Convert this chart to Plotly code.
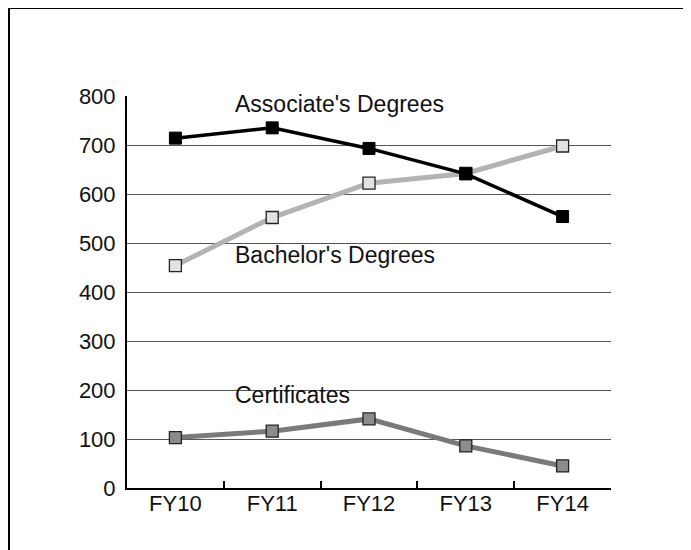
import plotly.graph_objects as go

years = ["FY10", "FY11", "FY12", "FY13", "FY14"]
associate = [714, 735, 693, 641, 554]
bachelor = [454, 552, 622, 642, 698]
certificates = [103, 116, 141, 86, 45]
y_ticks = [0, 100, 200, 300, 400, 500, 600, 700, 800]

FONT = "Liberation Sans, Arial, Helvetica, sans-serif"

fig = go.Figure()
fig.add_trace(go.Scatter(
    x=years, y=bachelor, mode="lines+markers",
    line=dict(color="#b3b3b3", width=5),
    marker=dict(symbol="square", size=12, color="#e2e2e2", line=dict(color="#222", width=1.3)),
))
fig.add_trace(go.Scatter(
    x=years, y=certificates, mode="lines+markers",
    line=dict(color="#7a7a7a", width=5),
    marker=dict(symbol="square", size=12, color="#8c8c8c", line=dict(color="#222", width=1.3)),
))
fig.add_trace(go.Scatter(
    x=years, y=associate, mode="lines+markers",
    line=dict(color="#000", width=3.5),
    marker=dict(symbol="square", size=12, color="#000", line=dict(color="#000", width=1)),
))

# page has an 8px body margin; positions below are in target-screen pixels
OFF = 8
W, H = 691, 550
L, R, T, B = 127 - OFF, W - (611 - OFF), 96 - OFF, H - (488 - OFF)
pw, ph = W - L - R, H - T - B

def px(x):
    return (x - OFF - L) / pw

def py(y):
    return (H - B - (y - OFF)) / ph

annots = [("Associate's Degrees", 104), ("Bachelor's Degrees", 255), ("Certificates", 395)]
for text, yc in annots:
    fig.add_annotation(text=text, xref="paper", yref="paper", x=px(233), y=py(yc),
                       xanchor="left", yanchor="middle", showarrow=False,
                       font=dict(family=FONT, size=23, color="#111"))

fig.add_shape(type="rect", xref="paper", yref="paper",
              x0=px(9), x1=px(684), y0=py(600), y1=py(8),
              line=dict(color="#000", width=2), layer="below")

fig.update_layout(
    width=W, height=H,
    margin=dict(l=L, r=R, t=T, b=B),
    paper_bgcolor="white", plot_bgcolor="white",
    showlegend=False,
    font=dict(family=FONT, size=22, color="#111"),
    xaxis=dict(
        type="category", range=[-0.5, len(years) - 0.5],
        showgrid=False, showline=True, linecolor="#000", linewidth=2,
        ticks="inside", tickson="boundaries", ticklen=7, tickwidth=2, tickcolor="#000",
        tickfont=dict(size=22), ticklabelstandoff=-5, zeroline=False,
    ),
    yaxis=dict(
        range=[0, 800], tickvals=y_ticks, showgrid=True, gridcolor="#555", gridwidth=1,
        showline=True, linecolor="#000", linewidth=2, zeroline=False,
        ticks="", tickfont=dict(size=22), ticklabelstandoff=5,
    ),
)

fig.write_html("out.html")
